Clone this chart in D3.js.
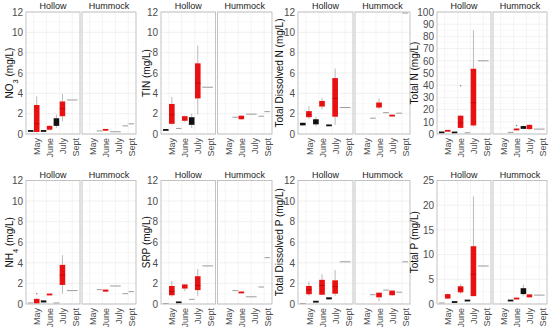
<!DOCTYPE html>
<html>
<head>
<meta charset="utf-8">
<script src="https://cdn.jsdelivr.net/npm/d3@7"></script>
<style>
  body { margin: 0; background: #fff; }
  text { font-family: "Liberation Sans", Arial, sans-serif; }
</style>
</head>
<body>
<svg id="chart"></svg>
<script>
// water chemistry by month, hollow vs hummock microsites
// black = first group, red = second group (dodged within each month)

var width = 550,
    height = 327;

var months = ["May", "June", "July", "Sept"];
var facets = ["Hollow", "Hummock"];

// y titles: [text, subscript, rest]
var titles = [
  ["NO", "3", " (mg/L)"], ["TIN (mg/L)"], ["Total Dissolved N (mg/L)"], ["Total N (mg/L)"],
  ["NH", "4", " (mg/L)"], ["SRP (mg/L)"], ["Total Dissolved P (mg/L)"], ["Total P (mg/L)"]
];
var yMax = [12, 12, 12, 100, 12, 12, 12, 25];
var yStep = [2, 2, 2, 10, 2, 2, 2, 5];

// facet, month, group, then either one value or lo, q1, median, q3, hi, [outliers]
var no3Boxes = [
  ["Hollow", "May", "k", 0.22, 0.24, 0.3, 0.36, 0.38],
  ["Hollow", "May", "r", 0.15, 0.2, 1.0, 2.85, 3.7],
  ["Hollow", "June", "k", 0.24, 0.25, 0.3, 0.35, 0.36],
  ["Hollow", "June", "r", 0.35, 0.42, 0.6, 0.8, 0.85],
  ["Hollow", "July", "k", 0.6, 0.8, 1.2, 1.55, 1.9],
  ["Hollow", "July", "r", 1.25, 1.75, 2.5, 3.2, 3.95],
  ["Hollow", "Sept", "k", 3.35],
  ["Hummock", "June", "k", 0.3],
  ["Hummock", "June", "r", 0.37, 0.38, 0.4, 0.44, 0.45],
  ["Hummock", "July", "k", 0.22],
  ["Hummock", "Sept", "k", 0.8],
  ["Hummock", "Sept", "r", 1.0]
];
var tinBoxes = [
  ["Hollow", "May", "k", 0.32, 0.34, 0.4, 0.46, 0.48],
  ["Hollow", "May", "r", 0.95, 1.0, 1.9, 2.95, 3.65],
  ["Hollow", "June", "k", 0.55],
  ["Hollow", "June", "r", 1.2, 1.3, 1.5, 1.75, 1.8],
  ["Hollow", "July", "k", 0.6, 0.9, 1.3, 1.65, 2.0],
  ["Hollow", "July", "r", 1.9, 3.5, 5.0, 6.95, 8.7],
  ["Hollow", "Sept", "k", 4.6],
  ["Hummock", "June", "k", 1.65],
  ["Hummock", "June", "r", 1.4, 1.45, 1.6, 1.8, 1.85],
  ["Hummock", "July", "k", 1.95],
  ["Hummock", "Sept", "k", 1.75],
  ["Hummock", "Sept", "r", 2.2]
];
var tdnBoxes = [
  ["Hollow", "May", "k", 0.8, 0.85, 1.0, 1.1, 1.15],
  ["Hollow", "May", "r", 1.5, 1.65, 1.9, 2.25, 2.75],
  ["Hollow", "June", "k", 0.75, 0.95, 1.2, 1.45, 1.7],
  ["Hollow", "June", "r", 2.45, 2.7, 3.0, 3.25, 3.55],
  ["Hollow", "July", "k", 0.78, 0.8, 0.85, 0.9, 0.92],
  ["Hollow", "July", "r", 0.9, 1.7, 3.5, 5.5, 6.45],
  ["Hollow", "Sept", "k", 2.6],
  ["Hummock", "June", "k", 1.55],
  ["Hummock", "June", "r", 2.45, 2.6, 2.85, 3.1, 3.5],
  ["Hummock", "July", "k", 2.1],
  ["Hummock", "July", "r", 1.7, 1.72, 1.8, 1.9, 1.92],
  ["Hummock", "Sept", "k", 2.05],
  ["Hummock", "Sept", "r", 11.9]
];
var tnBoxes = [
  ["Hollow", "May", "k", 1.0, 1.0, 1.3, 1.6, 1.6],
  ["Hollow", "May", "r", 2.0, 2.2, 2.6, 3.0, 3.2],
  ["Hollow", "June", "k", 1.0, 1.0, 1.2, 1.5, 1.5],
  ["Hollow", "June", "r", 4.5, 5, 9, 15, 15.5, [39.5]],
  ["Hollow", "July", "k", 1.0],
  ["Hollow", "July", "r", 6, 7, 25.5, 53.5, 85],
  ["Hollow", "Sept", "k", 60],
  ["Hummock", "June", "k", 1.3],
  ["Hummock", "June", "r", 2.8, 3, 3.6, 4.5, 4.8, [7]],
  ["Hummock", "July", "k", 4.0, 4.2, 5.2, 6.5, 6.8],
  ["Hummock", "July", "r", 3.5, 4, 5.5, 7.5, 8],
  ["Hummock", "Sept", "k", 4.0]
];
var nh4Boxes = [
  ["Hollow", "May", "k", 0.1],
  ["Hollow", "May", "r", 0.02, 0.05, 0.2, 0.5, 0.55, [1.0]],
  ["Hollow", "June", "k", 0.12, 0.15, 0.25, 0.35, 0.38],
  ["Hollow", "June", "r", 0.82, 0.85, 0.92, 1.0, 1.02],
  ["Hollow", "July", "k", 0.1],
  ["Hollow", "July", "r", 1.0, 1.85, 2.8, 3.8, 4.75],
  ["Hollow", "Sept", "k", 1.3],
  ["Hummock", "June", "k", 1.4],
  ["Hummock", "June", "r", 1.15, 1.2, 1.3, 1.4, 1.42],
  ["Hummock", "July", "k", 1.75],
  ["Hummock", "Sept", "k", 1.0],
  ["Hummock", "Sept", "r", 1.2]
];
var srpBoxes = [
  ["Hollow", "May", "k", 0.05],
  ["Hollow", "May", "r", 0.7, 0.85, 1.2, 1.75, 2.25],
  ["Hollow", "June", "k", 0.08, 0.1, 0.15, 0.22, 0.25],
  ["Hollow", "June", "r", 1.25, 1.5, 1.7, 1.9, 1.95],
  ["Hollow", "July", "k", 0.45],
  ["Hollow", "July", "r", 0.75, 1.35, 1.8, 2.7, 3.4],
  ["Hollow", "Sept", "k", 3.7],
  ["Hummock", "June", "k", 1.3],
  ["Hummock", "June", "r", 1.0, 1.05, 1.12, 1.2, 1.22],
  ["Hummock", "July", "k", 0.7],
  ["Hummock", "Sept", "k", 1.65],
  ["Hummock", "Sept", "r", 4.5]
];
var tdpBoxes = [
  ["Hollow", "May", "k", 0.05],
  ["Hollow", "May", "r", 0.8, 0.95, 1.4, 1.75, 2.2],
  ["Hollow", "June", "k", 0.12, 0.15, 0.22, 0.3, 0.32],
  ["Hollow", "June", "r", 0.85, 0.9, 1.8, 2.35, 2.9],
  ["Hollow", "July", "k", 0.42, 0.45, 0.55, 0.65, 0.68],
  ["Hollow", "July", "r", 0.8, 1.0, 1.7, 2.3, 3.3],
  ["Hollow", "Sept", "k", 4.1],
  ["Hummock", "June", "k", 0.9],
  ["Hummock", "June", "r", 0.25, 0.65, 0.85, 1.1, 1.15],
  ["Hummock", "July", "k", 1.35],
  ["Hummock", "July", "r", 0.8, 0.85, 1.0, 1.3, 1.35],
  ["Hummock", "Sept", "k", 1.15],
  ["Hummock", "Sept", "r", 4.1]
];
var tpBoxes = [
  ["Hollow", "May", "k", 0.2],
  ["Hollow", "May", "r", 1.0, 1.1, 1.5, 2.0, 2.1],
  ["Hollow", "June", "k", 0.3, 0.3, 0.4, 0.5, 0.5],
  ["Hollow", "June", "r", 2.0, 2.35, 3.0, 3.6, 4.0],
  ["Hollow", "July", "k", 0.6, 0.6, 0.7, 0.8, 0.8],
  ["Hollow", "July", "r", 1.5, 1.6, 6, 11.7, 21.8],
  ["Hollow", "Sept", "k", 7.7],
  ["Hummock", "June", "k", 0.6, 0.6, 0.7, 0.8, 0.8],
  ["Hummock", "June", "r", 0.9, 0.95, 1.1, 1.25, 1.3],
  ["Hummock", "July", "k", 1.7, 2.0, 2.5, 3.2, 3.9],
  ["Hummock", "July", "r", 1.3, 1.35, 1.6, 1.95, 2.0],
  ["Hummock", "Sept", "k", 1.8]
];

var panelData = [no3Boxes, tinBoxes, tdnBoxes, tnBoxes, nh4Boxes, srpBoxes, tdpBoxes, tpBoxes];

// layout
var plotLeft = [26, 161, 298, 437],
    plotRight = [136, 272, 410, 547],
    titleX = [9, 146, 279, 414],
    rowTop = [12, 180.5],
    rowBottom = [134, 304],
    gap = 2;

var fill = {k: "#111111", r: "#e81010"};

var svg = d3.select('#chart')
            .attr('width', width)
            .attr('height', height);

panelData.forEach(function(data, i) {
  var col = i % 4, row = Math.floor(i / 4);
  var left = plotLeft[col], right = plotRight[col];
  var top = rowTop[row], bottom = rowBottom[row];
  var fw = (right - left - gap) / 2;

  var y = d3.scaleLinear()
    .domain([0, yMax[i]])
    .range([bottom, top]);
  var ticks = d3.range(0, yMax[i] + 0.001, yStep[i]);
  var minor = ticks.slice(1).map(t => t - yStep[i] / 2);

  // y axis
  var yAxis = svg.append("g")
    .attr("transform", "translate(" + left + ",0)")
    .call(d3.axisLeft(y).tickValues(ticks).tickSize(0).tickPadding(3));
  yAxis.select(".domain").remove();
  yAxis.selectAll("text")
    .style("font-size", "10px")
    .attr("fill", "#4d4d4d");

  // y title
  var t = titles[i];
  var title = svg.append("text")
    .attr("transform", "translate(" + titleX[col] + "," + ((top + bottom) / 2) + ") rotate(-90)")
    .attr("dy", "0.35em")
    .style("text-anchor", "middle")
    .style("font-size", "10px")
    .attr("fill", "#111");
  title.append("tspan").text(t[0]);
  if (t.length > 1) {
    title.append("tspan").attr("baseline-shift", "sub").style("font-size", "7.5px").text(t[1]);
    title.append("tspan").text(t[2]);
  }

  facets.forEach(function(f, fi) {
    var x0 = left + fi * (fw + gap);
    var x = d3.scaleBand()
      .domain(months)
      .range([x0, x0 + fw])
      .paddingOuter(0.1);
    var s = x.step();
    var g = svg.append("g");

    // grid
    g.selectAll("line.minor")
      .data(minor)
      .enter().append("line")
        .attr("x1", x0).attr("x2", x0 + fw)
        .attr("y1", d => y(d)).attr("y2", d => y(d))
        .attr("stroke", "#f2f2f2").attr("stroke-width", 0.5);
    g.selectAll("line.major")
      .data(ticks)
      .enter().append("line")
        .attr("x1", x0).attr("x2", x0 + fw)
        .attr("y1", d => y(d)).attr("y2", d => y(d))
        .attr("stroke", "#e8e8e8").attr("stroke-width", 0.6);
    g.selectAll("line.vgrid")
      .data(months)
      .enter().append("line")
        .attr("x1", d => x(d) + s / 2).attr("x2", d => x(d) + s / 2)
        .attr("y1", top).attr("y2", bottom)
        .attr("stroke", "#ececec").attr("stroke-width", 0.6);

    // strip label
    svg.append("text")
      .attr("x", x0 + fw / 2)
      .attr("y", top - 3)
      .style("text-anchor", "middle")
      .style("font-size", "9px")
      .attr("fill", "#1a1a1a")
      .text(f);

    // x axis
    var xAxis = svg.append("g")
      .attr("transform", "translate(0," + bottom + ")")
      .call(d3.axisBottom(x).tickSize(0));
    xAxis.select(".domain").remove();
    xAxis.selectAll("text")
      .attr("transform", "rotate(-90)")
      .attr("x", -4)
      .attr("y", 3.5)
      .attr("dy", "0.35em")
      .style("text-anchor", "end")
      .style("font-size", "9px")
      .attr("fill", "#4d4d4d");

    // boxes, dodged within month
    var rows = data.filter(d => d[0] === f);
    months.forEach(function(m) {
      var here = rows.filter(d => d[1] === m);
      if (!here.length) return;
      var c = x(m) + s / 2;
      var inner = d3.scaleBand()
        .domain(here.map(d => d[2]))
        .range([c - 0.45 * s, c + 0.45 * s])
        .paddingInner(0.08);

      here.forEach(function(d) {
        var v = d.slice(3), lo, q1, med, q3, hi, out = [];
        if (v.length === 1) { lo = q1 = med = q3 = hi = v[0]; }
        else { lo = v[0]; q1 = v[1]; med = v[2]; q3 = v[3]; hi = v[4]; out = v[5] || []; }
        var bx = inner(d[2]), bw = inner.bandwidth(), cx = bx + bw / 2;

        if (hi > q3) g.append("line")
          .attr("x1", cx).attr("x2", cx).attr("y1", y(q3)).attr("y2", y(hi))
          .attr("stroke", "#a8a8a8").attr("stroke-width", 0.8);
        if (lo < q1) g.append("line")
          .attr("x1", cx).attr("x2", cx).attr("y1", y(q1)).attr("y2", y(lo))
          .attr("stroke", "#a8a8a8").attr("stroke-width", 0.8);

        if (q3 > q1) {
          var h = Math.max(1.8, y(q1) - y(q3));
          g.append("rect")
            .attr("x", bx).attr("width", bw)
            .attr("y", (y(q1) + y(q3)) / 2 - h / 2).attr("height", h)
            .attr("fill", fill[d[2]]);
          if (d[2] === "r" && h > 6) g.append("line")
            .attr("x1", bx).attr("x2", bx + bw).attr("y1", y(med)).attr("y2", y(med))
            .attr("stroke", "#b00000").attr("stroke-width", 0.6);
        } else {
          g.append("line")
            .attr("x1", bx).attr("x2", bx + bw).attr("y1", y(med)).attr("y2", y(med))
            .attr("stroke", "#9c9c9c").attr("stroke-width", 1);
        }

        g.selectAll(null)
          .data(out)
          .enter().append("circle")
            .attr("cx", cx).attr("cy", o => y(o)).attr("r", 0.8)
            .attr("fill", "#888");
      });
    });

    // facet border
    g.append("rect")
      .attr("x", x0).attr("y", top)
      .attr("width", fw).attr("height", bottom - top)
      .attr("fill", "none")
      .attr("stroke", "#bdbdbd").attr("stroke-width", 0.9);
  });
});
</script>
</body>
</html>
